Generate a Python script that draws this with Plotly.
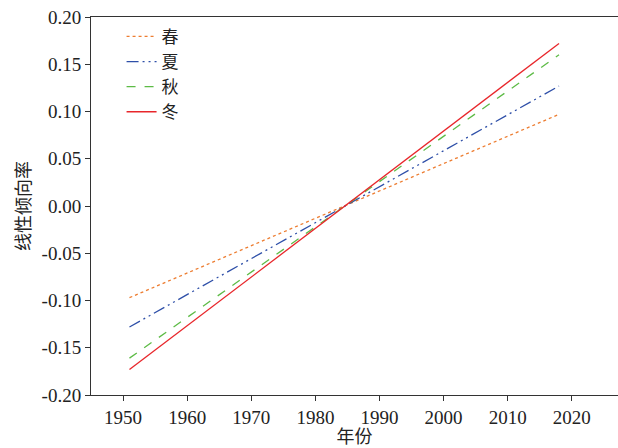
import plotly.graph_objects as go

years = [1951, 2018]
series_names = ["春", "夏", "秋", "冬"]
spring = [-0.097, 0.097]
summer = [-0.128, 0.127]
autumn = [-0.161, 0.160]
winter = [-0.173, 0.172]

x_ticks = [1950, 1960, 1970, 1980, 1990, 2000, 2010, 2020]
y_ticks = [-0.20, -0.15, -0.10, -0.05, 0.00, 0.05, 0.10, 0.15, 0.20]

colors = ["#ED7D31", "#2E4FA8", "#5DBB46", "#E8262B"]
dashes = ["dot", "12px,4px,2px,4px,2px,4px", "dash", "solid"]
values = [spring, summer, autumn, winter]

SERIF = "Liberation Serif"
CJK = "Noto Sans CJK SC"

fig = go.Figure()
for name, vals, c, d in zip(series_names, values, colors, dashes):
    fig.add_trace(go.Scatter(x=years, y=vals, mode="lines", name=name,
                             line=dict(color=c, dash=d, width=1.3)))

fig.update_layout(
    width=618, height=448,
    margin=dict(l=91, r=0, t=17, b=53),
    paper_bgcolor="white", plot_bgcolor="white",
    font=dict(family=SERIF, size=19, color="#222"),
    showlegend=True,
    legend=dict(x=0.058, y=0.995, xanchor="left", yanchor="top",
                bgcolor="rgba(0,0,0,0)", font=dict(size=17, family=CJK, color="#222"),
                tracegroupgap=0, itemwidth=30),
    xaxis=dict(range=[1945, 2027.2], tickvals=x_ticks, ticktext=[str(v) for v in x_ticks],
               showline=True, linecolor="#333", linewidth=1, mirror=True,
               ticks="outside", ticklen=5, tickcolor="#333", showgrid=False, zeroline=False,
               title=dict(text="年份", font=dict(family=CJK, size=18), standoff=3),
               tickfont=dict(family=SERIF, size=19, color="#222")),
    yaxis=dict(range=[-0.2, 0.2], tickvals=y_ticks, ticktext=[f"{v:.2f}" for v in y_ticks],
               showline=True, linecolor="#333", linewidth=1,
               ticks="outside", ticklen=5, tickcolor="#333", showgrid=False, zeroline=False,
               title=dict(text="线性倾向率", font=dict(family=CJK, size=18), standoff=6),
               tickfont=dict(family=SERIF, size=19, color="#222")),
)

fig.write_html("out.html")
